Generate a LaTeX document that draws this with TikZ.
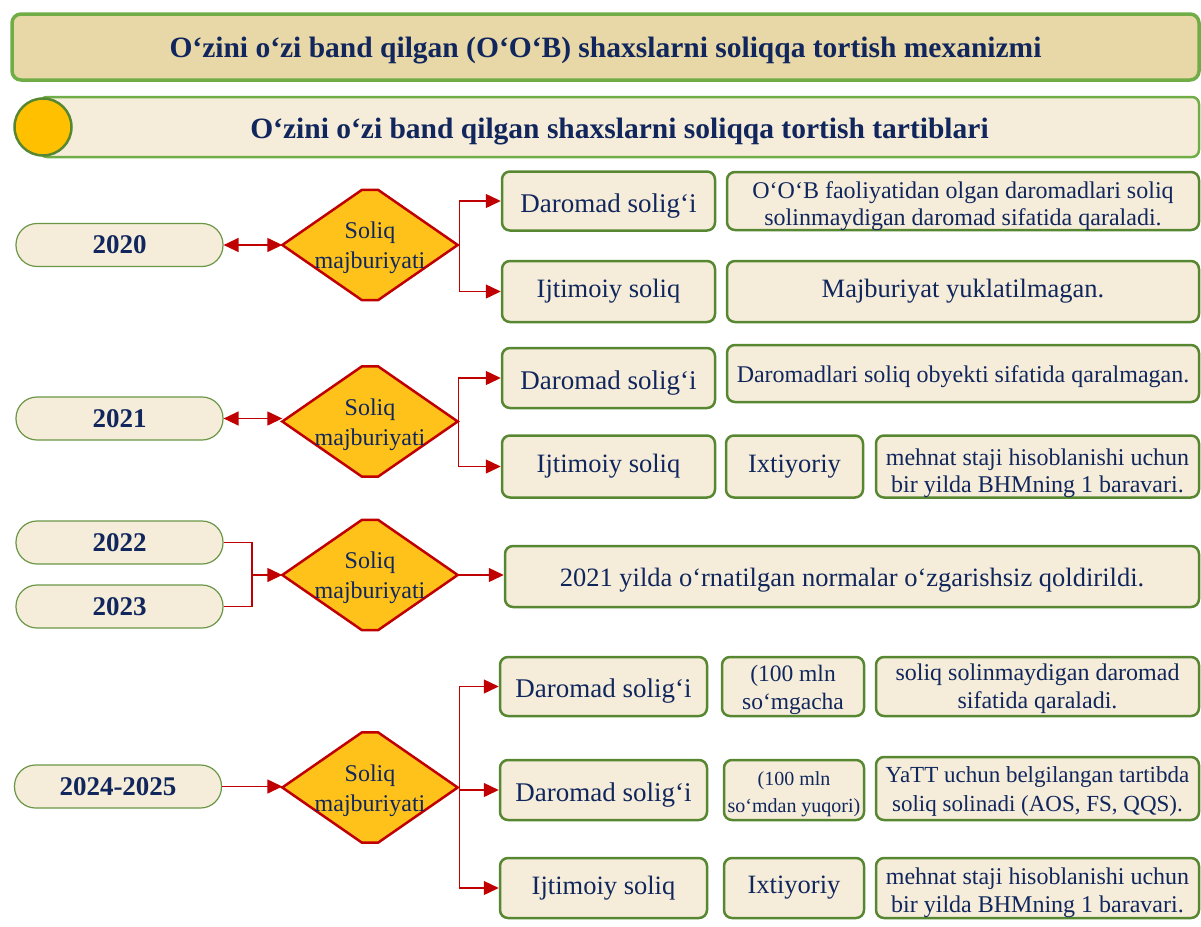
\documentclass[tikz,border=0pt]{standalone}
\usepackage{fontspec}
\setmainfont{Liberation Serif}
\usetikzlibrary{arrows.meta,shapes.geometric}
\definecolor{navy}{RGB}{16,38,92}
\definecolor{tanfill}{RGB}{232,216,167}
\definecolor{cream}{RGB}{245,237,218}
\definecolor{lgreen}{RGB}{112,173,71}
\definecolor{bgreen}{RGB}{88,135,50}
\definecolor{pgreen}{RGB}{106,150,70}
\definecolor{amber}{RGB}{255,194,26}
\definecolor{dred}{RGB}{192,0,0}
\definecolor{circfill}{RGB}{255,192,0}
\newcommand\soliqdiam[2]{%
  \node[dianode] (#1) at (#2) {};
  \draw[diaedge] (#1.west) -- ([xshift=-8pt]#1.north) -- ([xshift=8pt]#1.north) -- (#1.east) -- ([xshift=8pt]#1.south) -- ([xshift=-8pt]#1.south) -- cycle;
  \node[diatext] (#1t) at ([yshift=-3pt]#1.center) {Soliq\\majburiyati};
}
\begin{document}
\begin{tikzpicture}[x=1pt,y=-1pt,
  wh/.style 2 args={minimum width=#1pt, minimum height=#2pt},
  fs/.style 2 args={font=\fontsize{#1}{#2}\selectfont},
  low/.style={text height=#1pt, text depth=0pt},
  twoline/.style={text height=#1pt, text depth=0pt},
  bar/.style={draw=lgreen, fill=tanfill, line width=3.5pt, rounded corners=9pt, inner sep=0pt, text=navy, font=\fontsize{29.5}{34}\selectfont\bfseries},
  bartwo/.style={draw=lgreen, fill=cream, line width=2.5pt, rounded corners=7pt, inner sep=0pt, text=navy, font=\fontsize{29.5}{34}\selectfont\bfseries},
  pill/.style={draw=pgreen, fill=cream, line width=1.2pt, rounded corners=21pt, minimum width=207pt, minimum height=43pt, inner sep=0pt, text=navy, font=\fontsize{27}{30}\selectfont\bfseries},
  tbox/.style={draw=bgreen, fill=cream, line width=2.5pt, rounded corners=8pt, align=center, text=navy, inner sep=0pt, font=\fontsize{26.5}{30}\selectfont},
  dtext/.style={font=\fontsize{27}{30}\selectfont, low=22},
  dianode/.style={diamond, minimum width=175pt, minimum height=110pt, inner sep=0pt, draw=none},
  diaedge/.style={draw=dred, fill=amber, line width=2.5pt, line join=miter},
  diatext/.style={align=center, text=navy, inner sep=0pt, font=\fontsize{24}{30}\selectfont},
  conn/.style={draw=dred, line width=1.4pt},
  arr/.style={-{Triangle[length=15pt,width=14pt]}},
  darr/.style={{Triangle[length=15pt,width=14pt]}-{Triangle[length=15pt,width=14pt]}}
]
\useasboundingbox (0,0) rectangle (1201,926);

% headers
\node[bar, wh={1187}{66}, low=20] (t1) at (605.5,47) {O‘zini o‘zi band qilgan (O‘O‘B) shaxslarni soliqqa tortish mexanizmi};
\node[bartwo, wh={1159}{60}, low=22] (t2) at (619.5,127) {O‘zini o‘zi band qilgan shaxslarni soliqqa tortish tartiblari};
\node[circle, draw=bgreen, fill=circfill, line width=2.5pt, minimum size=57pt, inner sep=0pt] (c1) at (43,127) {};

% 2020
\node[pill] (y20) at (119.5,245) {2020};
\soliqdiam{d20}{370,245}
\node[tbox, dtext, wh={213}{59}] (ds20) at (608.5,201) {Daromad solig‘i};
\node[tbox, wh={472}{58}, fs={24}{27}, twoline=48] (t20a) at (963,201) {O‘O‘B faoliyatidan olgan daromadlari soliq\\solinmaydigan daromad sifatida qaraladi.};
\node[tbox, wh={213}{61}] (is20) at (608.5,291.5) {Ijtimoiy soliq};
\node[tbox, wh={472}{61}] (t20b) at (963,291.5) {Majburiyat yuklatilmagan.};
\draw[conn,darr] (y20.east) -- (d20.west);
\draw[conn,arr] (d20.east) -- ++(2,0) |- (ds20.west);
\draw[conn,arr] (d20.east) -- ++(2,0) |- (is20.west);

% 2021
\node[pill] (y21) at (119.5,418.5) {2021};
\soliqdiam{d21}{370,421.5}
\node[tbox, dtext, wh={213}{60}] (ds21) at (608.5,378) {Daromad solig‘i};
\node[tbox, wh={472}{57}, fs={24}{27}, low=18] (t21a) at (963,373.5) {Daromadlari soliq obyekti sifatida qaralmagan.};
\node[tbox, wh={213}{62}] (is21) at (608.5,466.5) {Ijtimoiy soliq};
\node[tbox, wh={137}{62}] (ix21) at (794.5,466.5) {Ixtiyoriy};
\node[tbox, wh={323}{62}, fs={24}{27}, twoline=52] (mh21) at (1037.5,466.5) {mehnat staji hisoblanishi uchun\\bir yilda BHMning 1 baravari.};
\draw[conn,darr] (y21.east) -- (y21.east -| d21.west);
\draw[conn,arr] (d21.east) -- ++(1,0) |- (ds21.west);
\draw[conn,arr] (d21.east) -- ++(1,0) |- (is21.west);

% 2022-2023
\node[pill] (y22) at (119.5,542.5) {2022};
\node[pill] (y23) at (119.5,606.5) {2023};
\soliqdiam{d22}{370,575}
\coordinate (j22) at (252,575);
\node[tbox, wh={694}{61}, low=20] (n22) at (852,576.5) {2021 yilda o‘rnatilgan normalar o‘zgarishsiz qoldirildi.};
\draw[conn] (y22.east) -| (j22);
\draw[conn] (y23.east) -| (j22);
\draw[conn,arr] (j22) -- (d22.west);
\draw[conn,arr] (d22.east) -- (d22.east -| n22.west);

% 2024-2025
\node[pill] (y24) at (118,786.5) {2024-2025};
\soliqdiam{d24}{370,787.5}
\node[tbox, dtext, wh={207}{59}] (ds24a) at (603.5,686.5) {Daromad solig‘i};
\node[tbox, wh={142}{59}, fs={23.5}{28}, twoline=46] (m24a) at (793,686.5) {(100 mln\\so‘mgacha};
\node[tbox, wh={323}{59}, fs={24}{28}, twoline=43] (s24a) at (1037.5,686.5) {soliq solinmaydigan daromad\\sifatida qaraladi.};
\node[tbox, dtext, wh={207}{60}] (ds24b) at (603.5,790) {Daromad solig‘i};
\node[tbox, wh={140}{60}, fs={20}{27}, twoline=44] (m24b) at (794,790) {(100 mln\\so‘mdan yuqori)};
\node[tbox, wh={323}{63}, fs={23}{29}, twoline=46] (s24b) at (1037.5,788.5) {YaTT uchun belgilangan tartibda\\soliq solinadi (AOS, FS, QQS).};
\node[tbox, wh={207}{60}] (is24) at (603.5,888) {Ijtimoiy soliq};
\node[tbox, wh={140}{60}] (ix24) at (794,888) {Ixtiyoriy};
\node[tbox, wh={323}{60}, fs={24}{28}, twoline=48] (mh24) at (1037.5,888) {mehnat staji hisoblanishi uchun\\bir yilda BHMning 1 baravari.};
\draw[conn,arr] (y24.east) -- (y24.east -| d24.west);
\draw[conn,arr] (d24.east) -- ++(2,0) |- (ds24a.west);
\draw[conn,arr] (d24.east) -- ++(2,0) |- (ds24b.west);
\draw[conn,arr] (d24.east) -- ++(2,0) |- (is24.west);
\end{tikzpicture}
\end{document}
